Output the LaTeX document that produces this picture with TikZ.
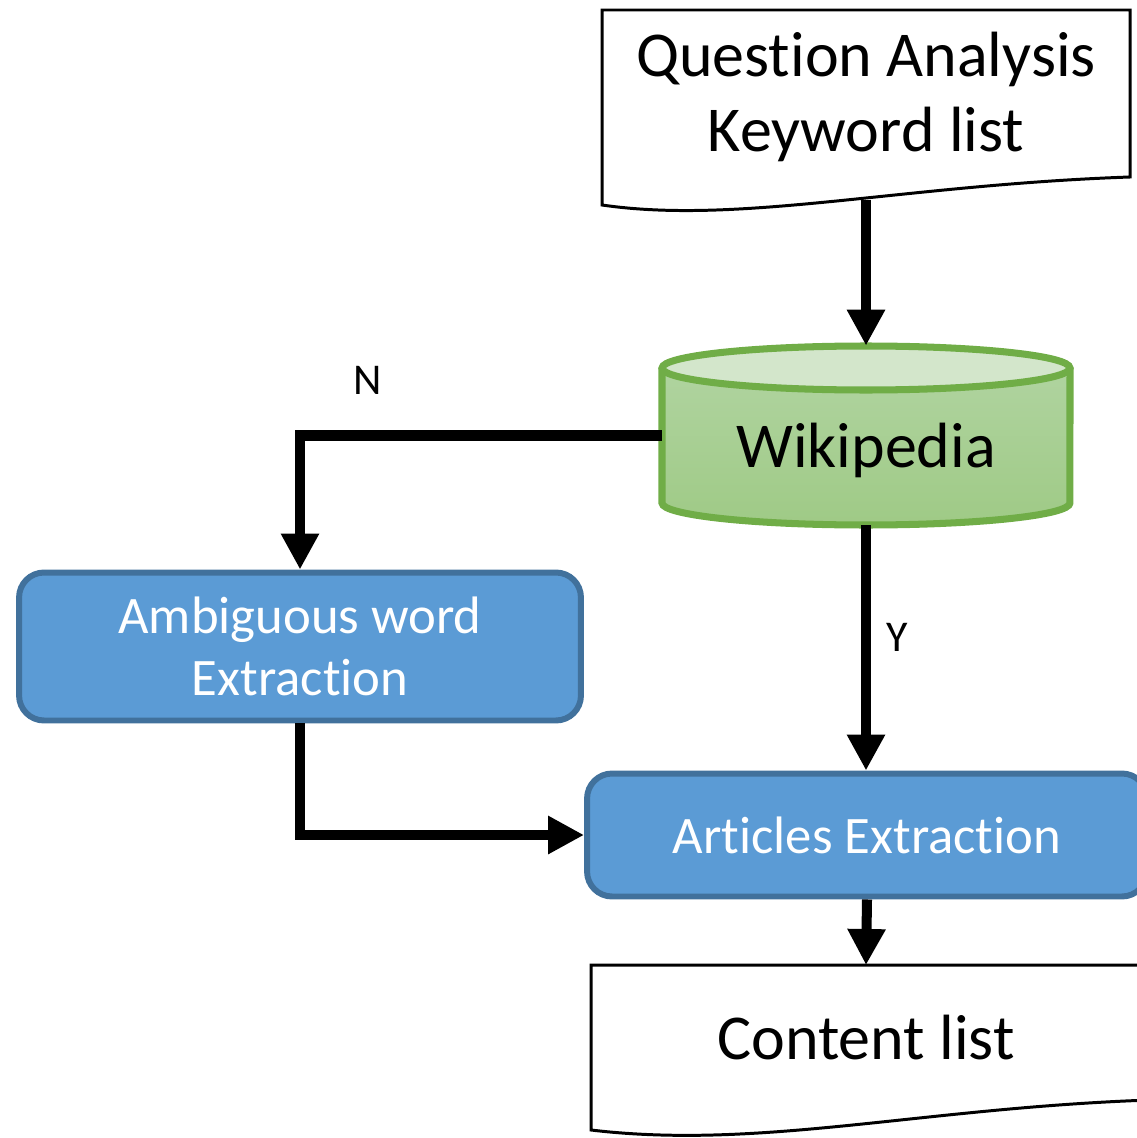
\documentclass[tikz,border=0pt]{standalone}
\usepackage{fontspec}
\setmainfont{Carlito}
\usetikzlibrary{arrows.meta}
\definecolor{boxblue}{HTML}{5B9BD5}
\definecolor{boxborder}{HTML}{41719C}
\definecolor{dbgreen}{HTML}{70AD47}
\definecolor{dbtop}{HTML}{D3E6CB}
\definecolor{dbbodytop}{HTML}{B2D5A3}
\definecolor{dbbodybottom}{HTML}{9FCA86}
% keeps the font from joining t and i
\newcommand{\nolig}{\kern0pt}

\tikzset{
    process/.style = {fill = boxblue, draw = boxborder, line width = 3.4pt, rounded corners = 0.5cm, text = white, align = center, font = \fontsize{30}{35.3}\selectfont},
    doctext/.style = {align = center, font = \fontsize{36.4}{42.7}\selectfont},
    docshape/.style = {draw, line width = 1.7pt, fill = white},
    link/.style = {line width = 5.7pt, -{Triangle[length = 0.72cm, width = 0.72cm]}},
    yesno/.style = {font = \fontsize{25}{30}\selectfont}
}

\begin{document}
\begin{tikzpicture}[x = 0.02cm, y = 0.02cm]
        \useasboundingbox (0, 0) rectangle (1136, -1138);

        % Documents
        \draw [docshape] (602, -10) -- (1130, -10) -- (1130, -177) .. controls (900, -185) and (740, -225) .. (602, -205) -- cycle;
        \node [doctext] (qa) at (866, -97) {Quest\nolig ion Analysis\\Keyword list};
        \coordinate (qaout) at (866, -200);

        \draw [docshape] (591, -965) -- (1150, -965) -- (1150, -1100) .. controls (920, -1108) and (760, -1150) .. (591, -1130) -- cycle;
        \node [doctext] (cl) at (866, -1038) {Content list};
        \coordinate (clin) at (866, -965);

        % Database
        \node [minimum width = 8.16cm, minimum height = 3.58cm, inner sep = 0pt] (wiki) at (866, -435.5) {};
        \shade [top color = dbbodytop, bottom color = dbbodybottom] (662, -368) -- (662, -503) arc [start angle = 180, end angle = 360, x radius = 4.08cm, y radius = 0.44cm] -- (1070, -368) arc [start angle = 0, end angle = 180, x radius = 4.08cm, y radius = 0.44cm] -- cycle;
        \draw [dbgreen, line width = 4pt] (662, -368) -- (662, -503) arc [start angle = 180, end angle = 360, x radius = 4.08cm, y radius = 0.44cm] -- (1070, -368);
        \filldraw [fill = dbtop, draw = dbgreen, line width = 4pt] (866, -368) ellipse [x radius = 4.08cm, y radius = 0.44cm];
        \node [doctext, anchor = base] (wikitext) at (866, -467) {Wikipedia};

        % Processes
        \node [process, minimum width = 11.24cm, minimum height = 2.96cm] (amb) at (300, -646.5) {Ambiguous word\\Extract\nolig ion};
        \node [process, minimum width = 11.2cm, minimum height = 2.46cm] (art) at (867, -835) {Art\nolig icles Extract\nolig ion};

        % Draw the links
        \draw [link] (qaout) -- (wiki.north);
        \draw [link] (wiki.west) -| (amb.north);
        \draw [link] (wiki.south) -- (wiki.south |- art.north);
        \draw [link] (amb.south) |- (art.west);
        \draw [link] (art.south) -- (clin);

        % Link labels
        \node [yesno] (nlabel) at (368, -380) {N};
        \node [yesno] (ylabel) at (897, -637) {Y};

    \end{tikzpicture}
\end{document}
